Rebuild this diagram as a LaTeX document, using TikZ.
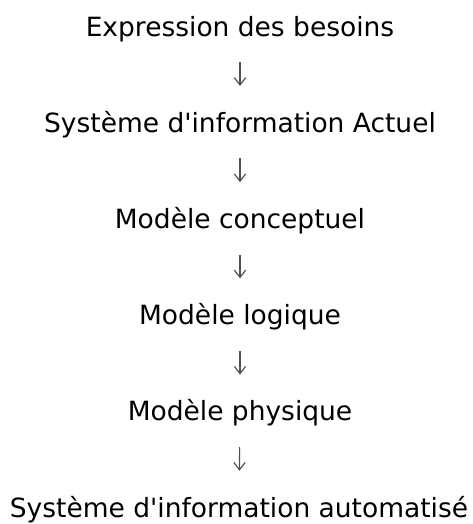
\documentclass[tikz,border=0pt]{standalone}
\usepackage{fontspec}
\setmainfont{DejaVu Sans}
\usepackage{xcolor}
\definecolor{arrowgray}{RGB}{80,80,80}
\usetikzlibrary{arrows.meta,positioning}

\begin{document}
\begin{tikzpicture}[x=0.03cm,y=-0.03cm,
  stage/.style={anchor=base,inner sep=0pt,text height=0.54cm,text depth=0.15cm,
    font=\fontsize{22.6}{26}\selectfont},
  flow/.style={arrowgray,line width=1pt,shorten <=0.63cm,shorten >=0.84cm,
    -{Straight Barb[length=0.22cm,width=0.34cm,line width=1pt]}}]
  \useasboundingbox (0,0) rectangle (473,524);
  % Stages
  \node[stage] (besoins) at (240,36) {Expression des besoins};
  \node[stage] (actuel) at (240,132.2) {Système d\textquotesingle information Actuel};
  \node[stage] (conceptuel) at (240,228.4) {Modèle conceptuel};
  \node[stage] (logique) at (240,324.6) {Modèle logique};
  \node[stage] (physique) at (240,420.8) {Modèle physique};
  \node[stage] (auto) at (239,517) {Système d\textquotesingle information automatisé};
  % Arrows
  \draw[flow] (besoins) -- (actuel);
  \draw[flow] (actuel) -- (conceptuel);
  \draw[flow] (conceptuel) -- (logique);
  \draw[flow] (logique) -- (physique);
  \draw[flow] (physique) -- (auto);
\end{tikzpicture}
\end{document}
